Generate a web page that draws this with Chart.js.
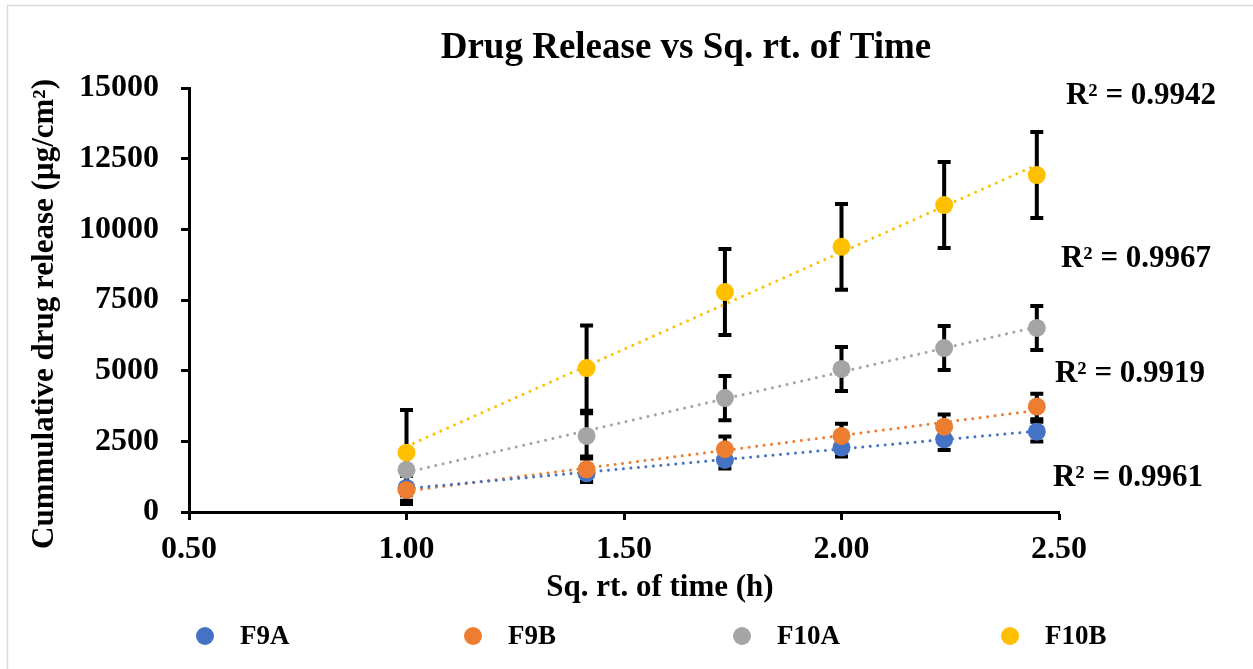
<!DOCTYPE html>
<html>
<head>
<meta charset="utf-8">
<script src="https://cdn.jsdelivr.net/npm/chart.js@4.4.1/dist/chart.umd.min.js"></script>
<style>
  html, body { margin: 0; padding: 0; background: #fff; }
  #wrap { width: 1253px; height: 669px; position: relative; }
</style>
</head>
<body>
<div id="wrap"><canvas id="c"></canvas></div>
<script>
// ---- data ----
const sqrtTime = [1.000, 1.414, 1.732, 2.000, 2.236, 2.449];
const seriesNames = ['F9A', 'F9B', 'F10A', 'F10B'];
const F9A = [850, 1370, 1840, 2280, 2570, 2840];
const F9A_err = [450, 300, 300, 320, 380, 350];
const F9B = [780, 1510, 2220, 2690, 3020, 3730];
const F9B_err = [500, 450, 450, 430, 430, 450];
const F10A = [1490, 2690, 4030, 5060, 5800, 6510];
const F10A_err = [750, 800, 780, 780, 780, 780];
const F10B = [2100, 5090, 7780, 9380, 10860, 11920];
const F10B_err = [1510, 1510, 1520, 1520, 1520, 1520];
const r2Labels = ['R² = 0.9961', 'R² = 0.9919', 'R² = 0.9967', 'R² = 0.9942'];
const colors = ['#4472C4', '#ED7D31', '#A5A5A5', '#FFC000'];
const xTicks = [0.5, 1.0, 1.5, 2.0, 2.5];
const yTicks = [0, 2500, 5000, 7500, 10000, 12500, 15000];

const seriesVals = [F9A, F9B, F10A, F10B];
const seriesErr = [F9A_err, F9B_err, F10A_err, F10B_err];

function linFit(xs, ys) {
  const n = xs.length;
  let sx = 0, sy = 0, sxx = 0, sxy = 0;
  for (let i = 0; i < n; i++) { sx += xs[i]; sy += ys[i]; sxx += xs[i]*xs[i]; sxy += xs[i]*ys[i]; }
  const m = (n*sxy - sx*sy) / (n*sxx - sx*sx);
  const b = (sy - m*sx) / n;
  return [m, b];
}

const FONT = '"Liberation Serif", "Times New Roman", serif';

const datasets = [];
seriesVals.forEach((vals, i) => {
  datasets.push({
    label: seriesNames[i],
    type: 'scatter',
    data: vals.map((v, j) => ({x: sqrtTime[j], y: v})),
    errors: seriesErr[i],
    backgroundColor: colors[i],
    borderColor: colors[i],
    pointRadius: 9,
    pointHoverRadius: 9,
    pointBorderWidth: 0,
    showLine: false,
    order: 4 - i
  });
});
seriesVals.forEach((vals, i) => {
  const [m, b] = linFit(sqrtTime, vals);
  const x0 = sqrtTime[0], x1 = sqrtTime[sqrtTime.length - 1];
  datasets.push({
    label: seriesNames[i] + ' trend',
    type: 'line',
    data: [{x: x0, y: m*x0 + b}, {x: x1, y: m*x1 + b}],
    borderColor: colors[i],
    borderWidth: 3,
    borderDash: [0.01, 7.5],
    borderCapStyle: 'round',
    pointRadius: 0,
    fill: false,
    order: 20
  });
});

const errorBars = {
  id: 'errorBars',
  beforeDatasetsDraw(chart) {
    const ctx = chart.ctx;
    const xs = chart.scales.x, ys = chart.scales.y;
    ctx.save();
    ctx.strokeStyle = '#000';
    ctx.lineWidth = 4;
    chart.data.datasets.forEach(ds => {
      if (!ds.errors) return;
      ds.data.forEach((p, j) => {
        const e = ds.errors[j];
        const px = xs.getPixelForValue(p.x);
        const top = ys.getPixelForValue(p.y + e);
        const bot = ys.getPixelForValue(p.y - e);
        ctx.beginPath();
        ctx.moveTo(px, top); ctx.lineTo(px, bot);
        ctx.moveTo(px - 6.5, top); ctx.lineTo(px + 6.5, top);
        ctx.moveTo(px - 6.5, bot); ctx.lineTo(px + 6.5, bot);
        ctx.stroke();
      });
    });
    ctx.restore();
  }
};

const decorations = {
  id: 'decorations',
  beforeDraw(chart) {
    const ctx = chart.ctx;
    ctx.save();
    ctx.fillStyle = '#fff';
    ctx.fillRect(0, 0, chart.width, chart.height);
    ctx.strokeStyle = '#d9d9d9';
    ctx.lineWidth = 1.5;
    ctx.strokeRect(7.5, 5.5, 1300, 700);
    ctx.restore();
  },
  afterDraw(chart) {
    const ctx = chart.ctx;
    ctx.save();
    ctx.fillStyle = '#000';
    ctx.textAlign = 'center';
    ctx.textBaseline = 'middle';
    // title
    ctx.font = 'bold 37px ' + FONT;
    ctx.fillText('Drug Release vs Sq. rt. of Time', 686, 48);
    // axis titles
    ctx.font = 'bold 31px ' + FONT;
    ctx.fillText('Sq. rt. of time (h)', 660, 588);
    ctx.save();
    ctx.translate(45, 314);
    ctx.rotate(-Math.PI / 2);
    ctx.fillText('Cummulative drug release (µg/cm²)', 0, 0);
    ctx.restore();
    // R² labels
    ctx.font = 'bold 31px ' + FONT;
    const r2Pos = [[1128, 478], [1130, 374], [1136, 259], [1141, 96]];
    r2Labels.forEach((t, i) => ctx.fillText(t, r2Pos[i][0], r2Pos[i][1]));
    // legend
    ctx.font = 'bold 27px ' + FONT;
    const legX = [205, 473, 742, 1010];
    ctx.textAlign = 'left';
    seriesNames.forEach((name, i) => {
      ctx.fillStyle = colors[i];
      ctx.beginPath();
      ctx.arc(legX[i], 636, 9, 0, Math.PI * 2);
      ctx.fill();
      ctx.fillStyle = '#000';
      ctx.fillText(name, legX[i] + 35, 637);
    });
    ctx.restore();
  }
};

new Chart(document.getElementById('c'), {
  type: 'scatter',
  data: { datasets },
  options: {
    responsive: true,
    maintainAspectRatio: false,
    animation: false,
    layout: { padding: { left: 0, top: 88, right: 194, bottom: 57 } },
    plugins: {
      legend: { display: false },
      title: { display: false },
      tooltip: { enabled: false }
    },
    scales: {
      x: {
        type: 'linear',
        min: 0.5, max: 2.5,
        afterBuildTicks: s => { s.ticks = xTicks.map(v => ({value: v})); },
        afterFit: s => { s.height = 100; },
        border: { display: true, color: '#000', width: 3 },
        grid: { display: true, drawOnChartArea: false, drawTicks: true, tickLength: 8, tickWidth: 3, tickColor: '#000' },
        ticks: {
          color: '#000', padding: 11,
          font: { family: FONT, size: 32, weight: 'bold' },
          callback: v => Number(v).toFixed(2),
          maxRotation: 0
        }
      },
      y: {
        type: 'linear',
        min: 0, max: 15000,
        afterBuildTicks: s => { s.ticks = yTicks.map(v => ({value: v})); },
        afterFit: s => { s.width = 189; },
        border: { display: true, color: '#000', width: 3 },
        grid: { display: true, drawOnChartArea: false, drawTicks: true, tickLength: 8, tickWidth: 3, tickColor: '#000' },
        ticks: {
          color: '#000', padding: 22,
          font: { family: FONT, size: 32, weight: 'bold' },
          callback: v => String(v)
        }
      }
    }
  },
  plugins: [decorations, errorBars]
});
</script>
</body>
</html>
